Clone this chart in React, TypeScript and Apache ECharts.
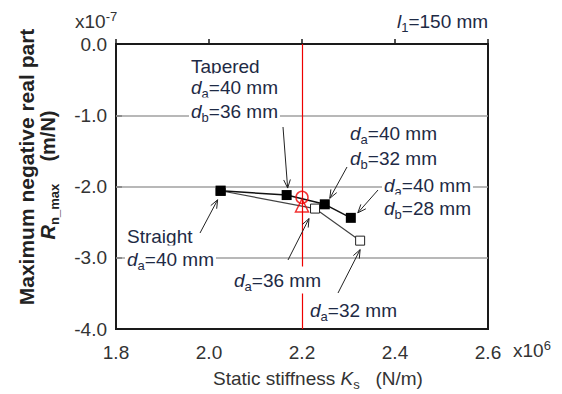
import React, { useEffect, useRef } from "react";
import * as echarts from "echarts";

// ---- data ----
const xTicks = [1.8, 2.0, 2.2, 2.4, 2.6];
const yTicks = [0.0, -1.0, -2.0, -3.0, -4.0];
const gridValues = [-1.0, -2.0, -3.0];
const straightData = [
  [2.025, -2.06],
  [2.228, -2.31],
  [2.325, -2.76],
];
const straightFilled = [true, false, false];
const taperedData = [
  [2.025, -2.06],
  [2.167, -2.12],
  [2.249, -2.25],
  [2.305, -2.44],
];
const refLineX = 2.2;
const refCircle = [2.2, -2.153];
const refTriangle = [2.2, -2.265];

const FONT = "'Liberation Sans', Arial, Helvetica, sans-serif";
const TXT = "#1e2a45";
const AX = "#333333";

const rich = (size: number, color: string, weight: string = "normal") => ({
  i: { fontStyle: "italic", fontSize: size, fontFamily: FONT, fill: color, fontWeight: weight },
  s: { fontSize: Math.round(size * 0.66), fontFamily: FONT, fill: color, padding: [12, 0, 0, 0], fontWeight: weight },
  p: { fontSize: Math.round(size * 0.66), fontFamily: FONT, fill: color, padding: [0, 0, 10, 0], fontWeight: weight },
  t: { fontSize: size, fontFamily: FONT, fill: color, fontWeight: weight },
});

// annotation lines: text, left x, center y, top padding
const labelLines: [string, number, number, number][] = [
  ["{t|Tapered}", 189, 62, 10],
  ["{i|d}{s|a}{t|=40 mm}", 189, 87, 1],
  ["{i|d}{s|b}{t|=36 mm}", 189, 111, 1],
  ["{i|d}{s|a}{t|=40 mm}", 348, 133, 1],
  ["{i|d}{s|b}{t|=32 mm}", 348, 158, 1],
  ["{i|d}{s|a}{t|=40 mm}", 382, 185, 1],
  ["{i|d}{s|b}{t|=28 mm}", 382, 208, 1],
  ["{t|Straight}", 125, 236, 1],
  ["{i|d}{s|a}{t|=40 mm}", 125, 259, 1],
  ["{i|d}{s|a}{t|=36 mm}", 232, 280, 1],
  ["{i|d}{s|a}{t|=32 mm}", 308, 310, 1],
];

// arrows: from pixel, target series ('t' tapered / 's' straight), index, tip offset
const arrows: [number, number, string, number, number, number][] = [
  [283, 127, "t", 1, 1, -7],
  [347, 167, "t", 2, 5, -6],
  [378, 190, "t", 3, 7, -5],
  [200, 233, "t", 0, -3, 9],
  [288, 260, "s", 1, -6, 10],
  [338, 293, "s", 2, 0, 9],
];

export default function App() {
  const ref = useRef<HTMLDivElement>(null);
  useEffect(() => {
    if (!ref.current) return;
    const chart = echarts.init(ref.current, null, { renderer: "svg" });
    const option: any = {
      animation: false,
      backgroundColor: "#ffffff",
      grid: {
        left: 116,
        top: 44,
        width: 372,
        height: 285,
        show: true,
        borderColor: "#1a1a1a",
        borderWidth: 2,
        backgroundColor: "transparent",
        outerBoundsMode: "none",
        containLabel: false,
      },
      xAxis: {
        type: "value",
        min: xTicks[0],
        max: xTicks[xTicks.length - 1],
        interval: 0.2,
        axisLine: { show: false },
        axisTick: { show: true, inside: true, length: 5, lineStyle: { color: "#1a1a1a", width: 1.5 } },
        splitLine: { show: false },
        axisLabel: {
          fontSize: 19,
          fontFamily: FONT,
          color: AX,
          margin: 14,
          formatter: (v: number) => v.toFixed(1),
        },
      },
      yAxis: {
        type: "value",
        min: yTicks[yTicks.length - 1],
        max: yTicks[0],
        interval: 1,
        axisLine: { show: false },
        axisTick: { show: true, inside: true, length: 6, lineStyle: { color: "#1a1a1a", width: 1.5 } },
        splitLine: { show: false },
        axisLabel: {
          fontSize: 19,
          fontFamily: FONT,
          color: AX,
          margin: 9,
          formatter: (v: number) => (Math.abs(v) < 1e-9 ? "0.0" : v.toFixed(1)),
        },
      },
      series: [
        {
          type: "line",
          name: "grid",
          data: [],
          silent: true,
          z: 1,
          markLine: {
            silent: true,
            symbol: ["none", "none"],
            label: { show: false },
            lineStyle: { color: "#a0a0a0", width: 1.5, type: "solid" },
            data: gridValues.map((v) => ({ yAxis: v })),
          },
        },
        {
          type: "line",
          name: "ref",
          data: [],
          silent: true,
          z: 2,
          markLine: {
            silent: true,
            symbol: ["none", "none"],
            label: { show: false },
            lineStyle: { color: "#ee0000", width: 1.2, type: "solid" },
            data: [{ xAxis: refLineX }],
          },
        },
        {
          type: "line",
          name: "straight",
          data: straightData.map((p, i) => ({
            value: p,
            symbolSize: straightFilled[i] ? 10 : 9,
            itemStyle: straightFilled[i]
              ? { color: "#000", borderColor: "#000", borderWidth: 0 }
              : { color: "#fff", borderColor: "#222", borderWidth: 1 },
          })),
          symbol: "rect",
          lineStyle: { color: "#444", width: 1.2 },
          z: 4,
        },
        {
          type: "line",
          name: "tapered",
          data: taperedData,
          symbol: "rect",
          symbolSize: 10,
          lineStyle: { color: "#111", width: 1.5 },
          itemStyle: { color: "#000", borderColor: "#000", borderWidth: 0 },
          z: 5,
        },
        {
          type: "scatter",
          name: "circle",
          data: [refCircle],
          symbol: "circle",
          symbolSize: 12,
          itemStyle: { color: "rgba(0,0,0,0)", borderColor: "#ee0000", borderWidth: 1.5 },
          z: 6,
        },
        {
          type: "scatter",
          name: "triangle",
          data: [refTriangle],
          symbol: "triangle",
          symbolSize: 13,
          itemStyle: { color: "rgba(0,0,0,0)", borderColor: "#ee0000", borderWidth: 1.5 },
          z: 6,
        },
      ],
    };
    chart.setOption(option);

    const graphics: any[] = [];
    labelLines.forEach(([text, x, y, pt]) => {
      graphics.push({
        type: "text",
        x,
        y,
        z: 100,
        style: {
          text,
          rich: rich(19, TXT),
          fontSize: 19,
          fontFamily: FONT,
          fill: TXT,
          align: "left",
          verticalAlign: "middle",
          backgroundColor: "#ffffff",
          padding: [pt, 2, 1, 2],
        },
      });
    });

    arrows.forEach(([fx, fy, s, idx, dx, dy]) => {
      const pt = s === "t" ? taperedData[idx] : straightData[idx];
      const px = chart.convertToPixel({ gridIndex: 0 }, pt) as number[];
      const tx = px[0] + dx;
      const ty = px[1] + dy;
      const ang = Math.atan2(ty - fy, tx - fx);
      const L = 9;
      const a = 0.38;
      const p1 = [tx - L * Math.cos(ang - a), ty - L * Math.sin(ang - a)];
      const p2 = [tx - L * Math.cos(ang + a), ty - L * Math.sin(ang + a)];
      graphics.push({
        type: "line",
        z: 110,
        shape: { x1: fx, y1: fy, x2: tx, y2: ty },
        style: { stroke: "#222", lineWidth: 1 },
      });
      graphics.push({
        type: "polyline",
        z: 110,
        shape: { points: [p1, [tx, ty], p2] },
        style: { stroke: "#222", lineWidth: 1, fill: null },
      });
    });

    // exponent labels and l1 label
    graphics.push({
      type: "text",
      x: 75,
      y: 21,
      z: 100,
      style: { text: "{t|x10}{p|-7}", rich: rich(19, AX), align: "left", verticalAlign: "middle" },
    });
    graphics.push({
      type: "text",
      x: 513,
      y: 350,
      z: 100,
      style: { text: "{t|x10}{p|6}", rich: rich(19, AX), align: "left", verticalAlign: "middle" },
    });
    graphics.push({
      type: "text",
      x: 397,
      y: 21,
      z: 100,
      style: { text: "{i|l}{s|1}{t|=150 mm}", rich: rich(19, TXT), align: "left", verticalAlign: "middle" },
    });
    // x-axis title
    graphics.push({
      type: "text",
      x: 318,
      y: 378,
      z: 100,
      style: {
        text: "{t|Static stiffness }{i|K}{s|s}{t|   (N/m)}",
        rich: rich(19, AX),
        align: "center",
        verticalAlign: "middle",
      },
    });
    // y-axis title, two lines
    graphics.push({
      type: "text",
      x: 26,
      y: 167,
      rotation: Math.PI / 2,
      z: 100,
      style: {
        text: "{t|Maximum negative real part}",
        rich: rich(21, "#222", "bold"),
        align: "center",
        verticalAlign: "middle",
      },
    });
    graphics.push({
      type: "text",
      x: 48,
      y: 175,
      rotation: Math.PI / 2,
      z: 100,
      style: {
        text: "{i|R}{s|n_max}{t|    (m/N)}",
        rich: rich(20, "#222", "bold"),
        align: "center",
        verticalAlign: "middle",
      },
    });

    chart.setOption({ graphic: graphics });

    return () => {
      chart.dispose();
    };
  }, []);
  return (
    <div
      ref={ref}
      style={{ position: "absolute", left: 0, top: 0, width: 562, height: 394 }}
    />
  );
}
